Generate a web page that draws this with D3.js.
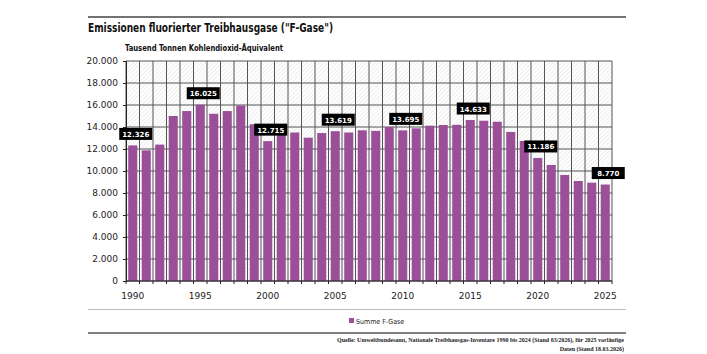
<!DOCTYPE html>
<html lang="de">
<head>
    <meta charset="UTF-8">
    <title>F-Gase</title>
    <script src="https://cdnjs.cloudflare.com/ajax/libs/d3/7.8.5/d3.min.js" charset="utf-8"></script>
    <style>
        body { margin: 0; background: #fff; }
        text { font-family: "DejaVu Sans Condensed", "DejaVu Sans", sans-serif; }
    </style>
</head>
<body>
<svg id="chart" width="707" height="354"></svg>

<script type="application/javascript">
    var years = d3.range(1990, 2026);
    var values = [12326, 11880, 12400, 15000, 15450, 16025, 15200, 15450, 15950, 14250,
                  12715, 13480, 13500, 13030, 13450, 13619, 13500, 13700, 13650, 14000,
                  13695, 13880, 14120, 14180, 14200, 14633, 14570, 14480, 13550, 12730,
                  11186, 10550, 9640, 9090, 8940, 8770];
    var labelYears = [1990, 1995, 2000, 2005, 2010, 2015, 2020, 2025];
    var yTicks = [0, 2000, 4000, 6000, 8000, 10000, 12000, 14000, 16000, 18000, 20000];

    var plot = { left: 126, right: 612, top: 61, bottom: 281 };
    var barColor = '#9b4f98';

    var svg = d3.select('#chart');

    var x = d3.scaleBand()
        .domain(years)
        .range([plot.left, plot.right])
        .paddingInner(0.33)
        .paddingOuter(0.165);

    var y = d3.scaleLinear()
        .domain([0, 20000])
        .range([plot.bottom, plot.top]);

    var fmt = d3.formatLocale({ decimal: ',', thousands: '.', grouping: [3], currency: ['', ''] }).format(',d');

    // hatch pattern for the plot background
    var defs = svg.append('defs');
    var pat = defs.append('pattern')
        .attr('id', 'hatch')
        .attr('patternUnits', 'userSpaceOnUse')
        .attr('width', 3)
        .attr('height', 3)
        .attr('patternTransform', 'rotate(45)');
    pat.append('rect').attr('width', 3).attr('height', 3).attr('fill', '#fff');
    pat.append('line').attr('x1', 0).attr('y1', 0).attr('x2', 0).attr('y2', 3)
        .attr('stroke', '#d2d2d2').attr('stroke-width', 0.8);

    // rules and titles
    svg.append('line').attr('x1', 88).attr('x2', 626).attr('y1', 17).attr('y2', 17)
        .attr('stroke', '#444').attr('stroke-width', 1.5);
    svg.append('text').attr('x', 88).attr('y', 32)
        .attr('font-size', 13).attr('font-weight', 'bold').attr('fill', '#111')
        .attr('textLength', 245).attr('lengthAdjust', 'spacingAndGlyphs')
        .text('Emissionen fluorierter Treibhausgase ("F-Gase")');
    svg.append('text').attr('x', 125).attr('y', 51)
        .attr('font-size', 9).attr('font-weight', 'bold').attr('fill', '#111')
        .attr('textLength', 158).attr('lengthAdjust', 'spacingAndGlyphs')
        .text('Tausend Tonnen Kohlendioxid-Äquivalent');

    svg.append('rect')
        .attr('x', plot.left).attr('y', plot.top)
        .attr('width', plot.right - plot.left).attr('height', plot.bottom - plot.top)
        .attr('fill', 'url(#hatch)');

    // grid: vertical lines on the band edges
    var step = x.step();
    var edges = d3.range(years.length + 1).map(function (i) { return plot.left + i * step; });

    svg.append('g').selectAll('line')
        .data(edges)
        .enter()
        .append('line')
        .attr('x1', function (d) { return d; })
        .attr('x2', function (d) { return d; })
        .attr('y1', plot.top)
        .attr('y2', plot.bottom)
        .attr('stroke', '#555')
        .attr('stroke-width', 1);

    svg.append('g').selectAll('line')
        .data(yTicks)
        .enter()
        .append('line')
        .attr('x1', plot.left)
        .attr('x2', plot.right)
        .attr('y1', function (d) { return y(d); })
        .attr('y2', function (d) { return y(d); })
        .attr('stroke', '#555')
        .attr('stroke-width', 1);

    // bars
    svg.append('g').selectAll('rect')
        .data(values)
        .enter()
        .append('rect')
        .attr('x', function (d, i) { return x(years[i]); })
        .attr('width', x.bandwidth())
        .attr('y', function (d) { return y(d); })
        .attr('height', function (d) { return y(0) - y(d); })
        .attr('fill', barColor);

    // axes
    var yAxis = svg.append('g')
        .attr('transform', 'translate(' + plot.left + ',0)')
        .call(d3.axisLeft(y).tickValues(yTicks).tickFormat(fmt).tickSize(3).tickPadding(5));
    yAxis.select('.domain').attr('stroke', '#222');
    yAxis.selectAll('.tick line').attr('stroke', '#222');
    yAxis.selectAll('text').attr('font-size', 9).attr('fill', '#222')
        .style('font-family', '"DejaVu Sans", sans-serif');

    svg.append('g').selectAll('line')
        .data(edges)
        .enter()
        .append('line')
        .attr('x1', function (d) { return d; })
        .attr('x2', function (d) { return d; })
        .attr('y1', plot.bottom)
        .attr('y2', plot.bottom + 3)
        .attr('stroke', '#222');
    svg.append('line').attr('x1', plot.left).attr('x2', plot.right)
        .attr('y1', plot.bottom).attr('y2', plot.bottom)
        .attr('stroke', '#222').attr('stroke-width', 1.2);

    svg.append('g').selectAll('text')
        .data(labelYears)
        .enter()
        .append('text')
        .attr('x', function (d) { return x(d) + x.bandwidth() / 2; })
        .attr('y', 299)
        .attr('text-anchor', 'middle')
        .attr('font-size', 9)
        .attr('fill', '#222')
        .style('font-family', '"DejaVu Sans", sans-serif')
        .text(function (d) { return d; });

    // value labels
    var lab = svg.append('g').selectAll('g')
        .data(labelYears)
        .enter()
        .append('g')
        .attr('transform', function (d) {
            var v = values[years.indexOf(d)];
            return 'translate(' + (x(d) + x.bandwidth() / 2 + 3) + ',' + (y(v) - 11) + ')';
        });
    lab.append('rect')
        .attr('x', -16.5).attr('y', -6.5)
        .attr('width', 33).attr('height', 12)
        .attr('fill', '#000');
    lab.append('text')
        .attr('text-anchor', 'middle')
        .attr('y', 2.5)
        .attr('font-size', 7)
        .attr('font-weight', 'bold')
        .attr('fill', '#fff')
        .style('font-family', '"DejaVu Sans", sans-serif')
        .text(function (d) { return fmt(values[years.indexOf(d)]); });

    // legend and source
    svg.append('line').attr('x1', 88).attr('x2', 626).attr('y1', 309.5).attr('y2', 309.5)
        .attr('stroke', '#bbb').attr('stroke-width', 1);
    svg.append('rect').attr('x', 349).attr('y', 318).attr('width', 5).attr('height', 5).attr('fill', barColor);
    svg.append('text').attr('x', 356).attr('y', 323.5)
        .attr('font-size', 7).attr('fill', '#222')
        .text('Summe F-Gase');
    svg.append('line').attr('x1', 88).attr('x2', 626).attr('y1', 333).attr('y2', 333)
        .attr('stroke', '#555').attr('stroke-width', 1.5);
    svg.append('text').attr('x', 624).attr('y', 342)
        .attr('text-anchor', 'end').attr('font-size', 6).attr('font-weight', 'bold').attr('fill', '#222')
        .style('font-family', '"Liberation Serif", serif')
        .attr('textLength', 287).attr('lengthAdjust', 'spacingAndGlyphs')
        .text('Quelle: Umweltbundesamt, Nationale Treibhausgas-Inventare 1990 bis 2024 (Stand 03/2026), für 2025 vorläufige');
    svg.append('text').attr('x', 624).attr('y', 351)
        .attr('text-anchor', 'end').attr('font-size', 6).attr('font-weight', 'bold').attr('fill', '#222')
        .style('font-family', '"Liberation Serif", serif')
        .text('Daten (Stand 18.03.2026)');
</script>
</body>
</html>
